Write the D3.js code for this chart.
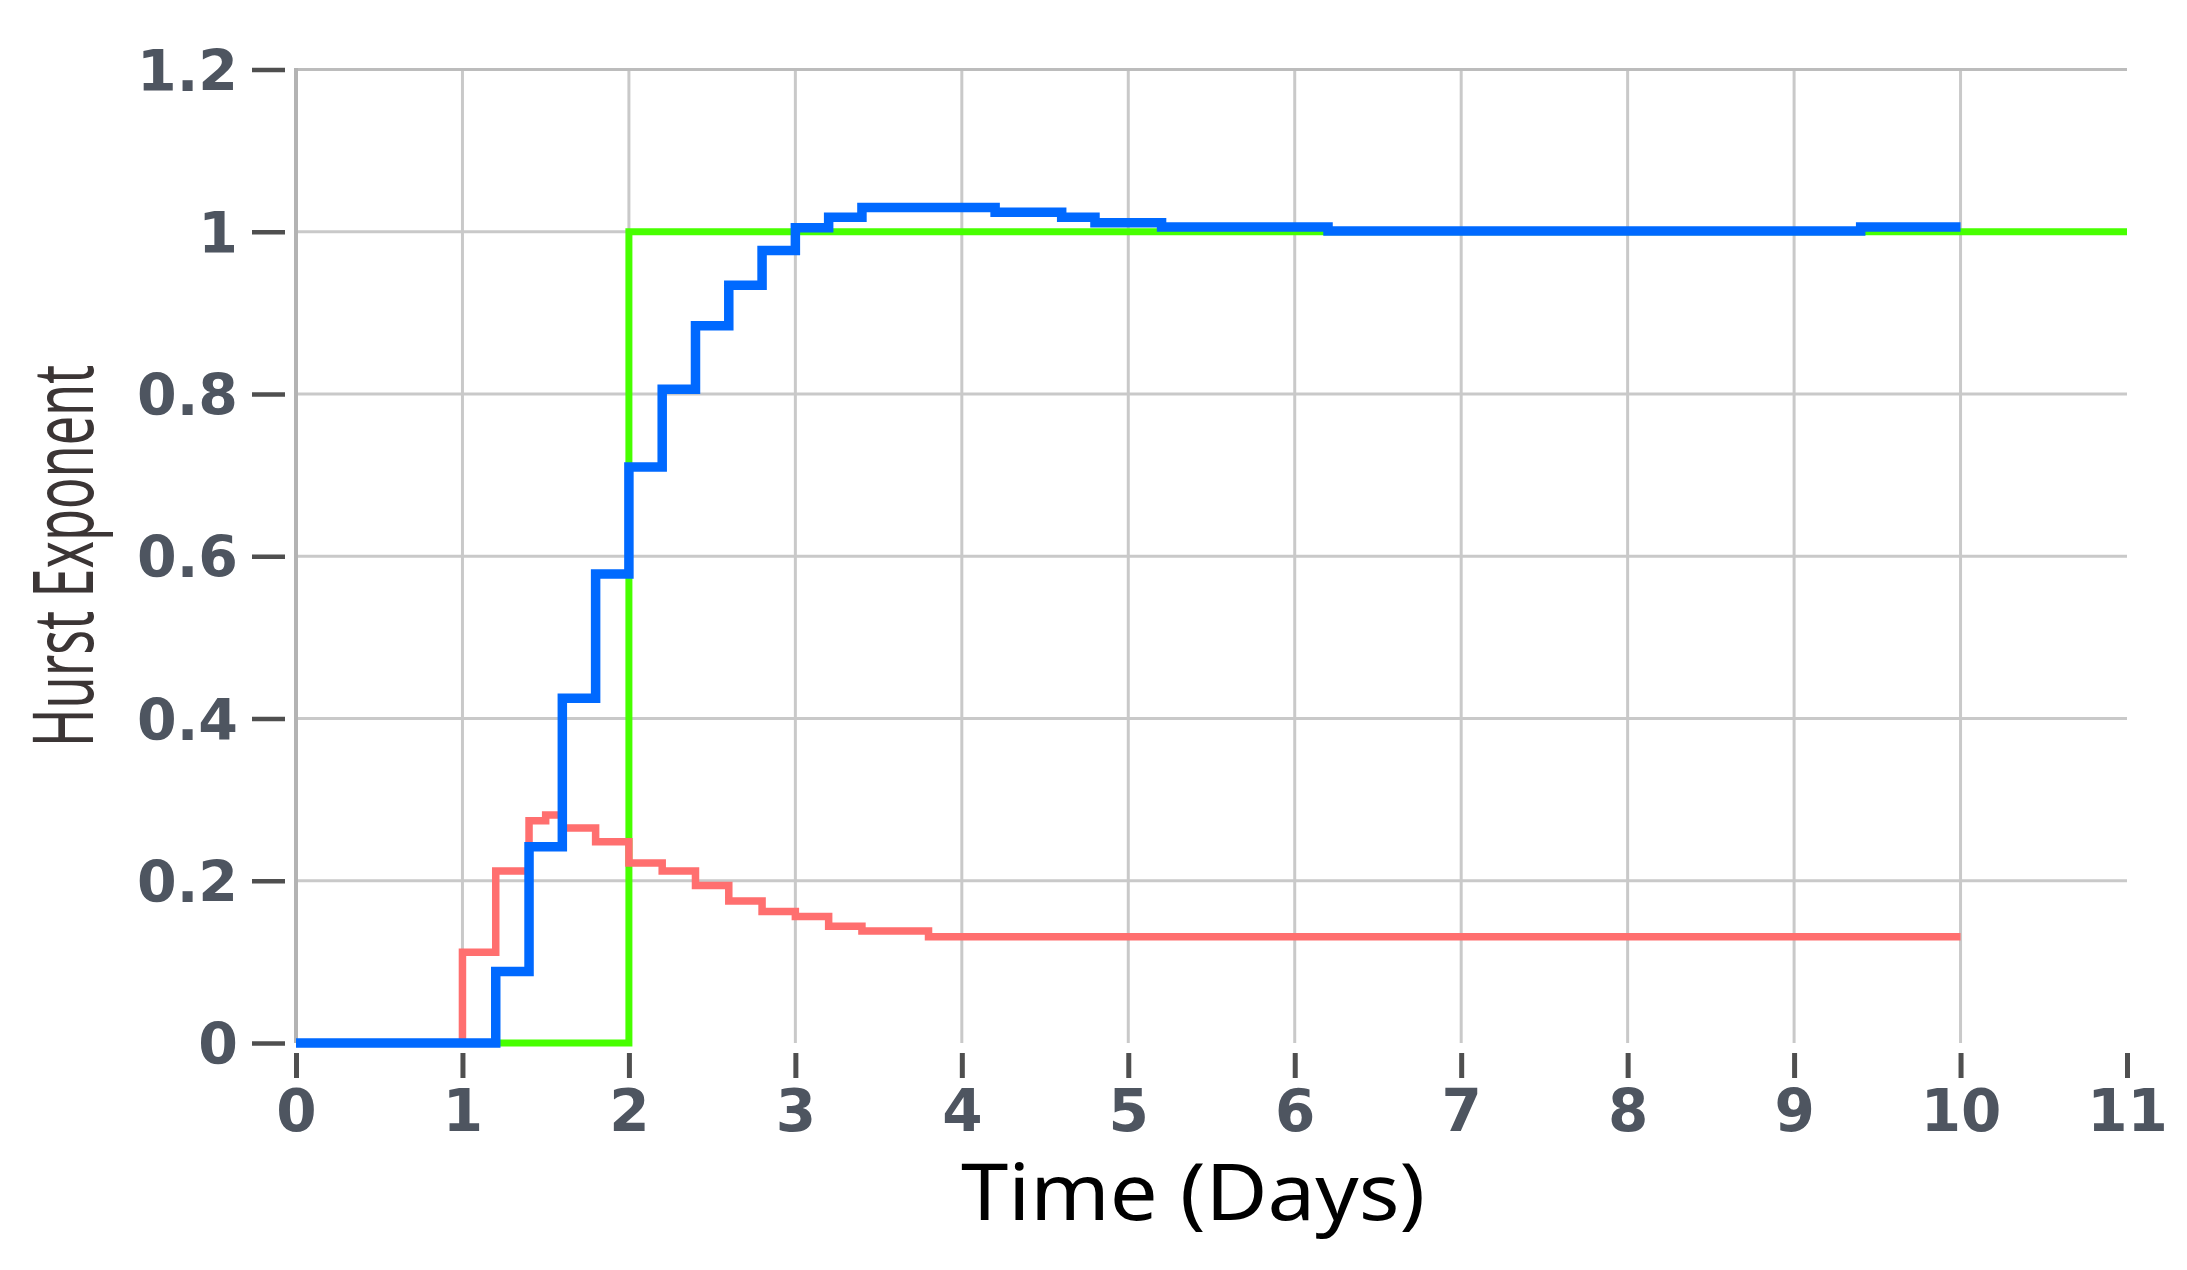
<!DOCTYPE html>
<html>
<head>
<meta charset="utf-8">
<script src="https://cdn.jsdelivr.net/npm/d3@7"></script>
<style>
  html, body { margin: 0; padding: 0; background: #fff; }
  svg { display: block; }
</style>
</head>
<body>
<svg id="chart" width="2187" height="1270"></svg>
<script>
// step series, value holds from each time until the next one
const greenTime = [0, 2, 11];
const greenHurst = [0, 1, 1];

const redTime = [0, 1.0, 1.2, 1.4, 1.5, 1.6, 1.8, 2.0, 2.2, 2.4, 2.6, 2.8, 3.0, 3.2, 3.4, 3.8, 10];
const redHurst = [0, 0.112, 0.212, 0.274, 0.281, 0.265, 0.248, 0.222, 0.212, 0.194, 0.175, 0.162, 0.156, 0.144, 0.138, 0.131, 0.131];

const blueTime = [0, 1.2, 1.4, 1.6, 1.8, 2.0, 2.2, 2.4, 2.6, 2.8, 3.0, 3.2, 3.4, 4.2, 4.6, 4.8, 5.2, 6.2, 9.4, 10];
const blueHurst = [0, 0.088, 0.242, 0.425, 0.578, 0.71, 0.806, 0.884, 0.934, 0.977, 1.005, 1.018, 1.03, 1.024, 1.018, 1.011, 1.006, 1.001, 1.006, 1.006];

const xTicks = [0, 1, 2, 3, 4, 5, 6, 7, 8, 9, 10, 11];
const yTicks = [0, 0.2, 0.4, 0.6, 0.8, 1, 1.2];

const xTitle = 'Time (Days)';
const yTitle = 'Hurst Exponent';

const series = [
  { key: 'green', time: greenTime, value: greenHurst, color: '#47ff00', width: 7 },
  { key: 'red', time: redTime, value: redHurst, color: '#ff6f6f', width: 7.5 },
  { key: 'blue', time: blueTime, value: blueHurst, color: '#0069ff', width: 9.5 },
];

const margin = { left: 296, right: 60, top: 69.5, bottom: 227 };
const svg = d3.select('#chart');
const W = +svg.attr('width');
const H = +svg.attr('height');

const x = d3.scaleLinear().domain([0, 11]).range([margin.left, W - margin.right]);
const y = d3.scaleLinear().domain([0, 1.2]).range([H - margin.bottom, margin.top]);

const labelFont = '"DejaVu Sans", sans-serif';

// grid
const grid = svg.append('g').attr('class', 'grid');
grid
  .selectAll('line.gx')
  .data(xTicks.filter((d) => d > 0 && d < 11))
  .join('line')
  .attr('class', 'gx')
  .attr('x1', (d) => x(d))
  .attr('x2', (d) => x(d))
  .attr('y1', y(1.2))
  .attr('y2', y(0))
  .attr('stroke', '#c9c9c9')
  .attr('stroke-width', 3);
grid
  .selectAll('line.gy')
  .data(yTicks.filter((d) => d > 0))
  .join('line')
  .attr('class', 'gy')
  .attr('x1', x(0))
  .attr('x2', x(11))
  .attr('y1', (d) => y(d))
  .attr('y2', (d) => y(d))
  .attr('stroke', (d) => (d === 1.2 ? '#bcbcbc' : '#c9c9c9'))
  .attr('stroke-width', 3);
// left border
grid
  .append('line')
  .attr('x1', x(0))
  .attr('x2', x(0))
  .attr('y1', y(1.2) - 1.5)
  .attr('y2', y(0))
  .attr('stroke', '#b3b3b3')
  .attr('stroke-width', 4);

// axes (ticks sit a little off the plot edge)
const yAxis = svg
  .append('g')
  .attr('transform', `translate(${x(0) - 11},0)`)
  .call(
    d3
      .axisLeft(y)
      .tickValues(yTicks)
      .tickSize(33)
      .tickPadding(14)
      .tickFormat(d3.format('~g'))
  );
yAxis.select('.domain').remove();
yAxis.selectAll('.tick line').attr('stroke', '#4f4f4f').attr('stroke-width', 4.5);
yAxis
  .selectAll('.tick text')
  .attr('fill', '#4e5560')
  .attr('font-family', labelFont)
  .attr('font-weight', 'bold')
  .attr('font-size', 57)
  .attr('dy', '0.36em');

const xAxis = svg
  .append('g')
  .attr('transform', `translate(0,${y(0) + 10})`)
  .call(d3.axisBottom(x).tickValues(xTicks).tickSize(25).tickPadding(12).tickFormat(d3.format('d')));
xAxis.select('.domain').remove();
xAxis.selectAll('.tick line').attr('stroke', '#4f4f4f').attr('stroke-width', 5);
xAxis
  .selectAll('.tick text')
  .attr('fill', '#4e5560')
  .attr('font-family', labelFont)
  .attr('font-weight', 'bold')
  .attr('font-size', 58);

// titles
svg
  .append('text')
  .attr('x', 1193)
  .attr('y', 1220)
  .attr('text-anchor', 'middle')
  .attr('font-family', '"Noto Sans", sans-serif')
  .attr('font-size', 78)
  .attr('fill', '#000')
  .attr('textLength', 464)
  .attr('lengthAdjust', 'spacingAndGlyphs')
  .text(xTitle);

svg
  .append('text')
  .attr('transform', 'translate(93,556) rotate(-90)')
  .attr('text-anchor', 'middle')
  .attr('font-family', '"Noto Sans", sans-serif')
  .attr('font-size', 84)
  .attr('fill', '#3b3535')
  .attr('textLength', 382)
  .attr('lengthAdjust', 'spacingAndGlyphs')
  .text(yTitle);

// lines
const line = d3
  .line()
  .x((d) => x(d[0]))
  .y((d) => y(d[1]))
  .curve(d3.curveStepAfter);

svg
  .append('g')
  .attr('class', 'lines')
  .selectAll('path')
  .data(series)
  .join('path')
  .attr('fill', 'none')
  .attr('stroke', (d) => d.color)
  .attr('stroke-width', (d) => d.width)
  .attr('stroke-linejoin', 'miter')
  .attr('d', (d) => line(d.time.map((t, i) => [t, d.value[i]])));
</script>
</body>
</html>
